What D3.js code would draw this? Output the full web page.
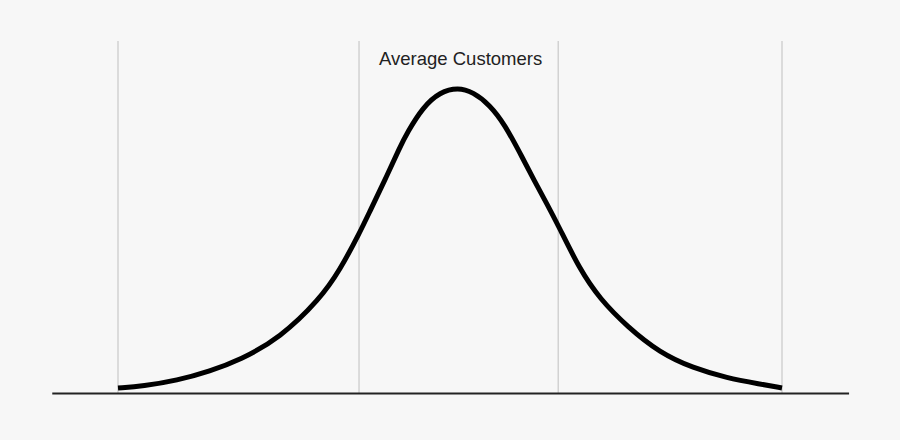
<!DOCTYPE html>
<html>
<head>
<meta charset="utf-8">
<script src="https://cdn.jsdelivr.net/npm/d3@7"></script>
<style>
  html, body { margin: 0; padding: 0; background: #f7f7f7; }
  svg { display: block; }
</style>
</head>
<body>
<svg id="chart" width="900" height="440"></svg>
<script>
// Curve samples (x: 0..100 span units, y: relative height, peak = 100)
const curveX = [0, 3.77, 8.89, 13.86, 18.37, 24.40, 30.42, 33.43, 36.45, 37.95, 40.21, 42.47, 43.52,
                45.93, 48.49, 51.20, 53.46, 56.02, 58.28, 60.54, 62.80, 64.61, 66.27,
                69.58, 72.59, 76.66, 81.63, 86.60, 91.72, 96.69, 100];
const curveY = [1.80, 2.45, 4.25, 7.35, 10.95, 18.14, 30.88, 40.36, 52.78, 59.64, 69.77, 80.56, 85.13,
                93.63, 98.53, 100, 98.53, 94.28, 87.75, 78.59, 69.12, 61.93, 55.07,
                40.36, 30.88, 21.90, 13.24, 8.33, 5.07, 3.10, 1.80];
// Vertical guide lines
const guideX = [0, 36.3, 66.3, 100];
// Baseline extent
const baseExtent = [-9.9, 110.1];
const labelText = "Average Customers";

const svg = d3.select("#chart");
const W = 900, H = 440;

const x = d3.scaleLinear().domain([0, 100]).range([118, 782]);
const y = d3.scaleLinear().domain([0, 115.2]).range([393.5, 41]);

svg.append("rect").attr("width", W).attr("height", H).attr("fill", "#f7f7f7");

svg.append("g").selectAll("line").data(guideX).join("line")
  .attr("x1", d => x(d)).attr("x2", d => x(d))
  .attr("y1", y(0)).attr("y2", y(115.2))
  .attr("stroke", "#d2d2d2").attr("stroke-width", 1.5);

svg.append("line")
  .attr("x1", x(baseExtent[0])).attr("x2", x(baseExtent[1]))
  .attr("y1", y(0)).attr("y2", y(0))
  .attr("stroke", "#222").attr("stroke-width", 2);

const pts = curveX.map((d, i) => [d, curveY[i]]);
const line = d3.line().x(d => x(d[0])).y(d => y(d[1])).curve(d3.curveBasis);
svg.append("path").datum(pts)
  .attr("d", line)
  .attr("fill", "none")
  .attr("stroke", "#000")
  .attr("stroke-width", 5);

svg.append("text")
  .attr("x", (x(guideX[1]) + x(guideX[2])) / 2 + 2)
  .attr("y", y(107.4))
  .attr("text-anchor", "middle")
  .attr("font-family", "Liberation Sans, Arial, sans-serif")
  .attr("font-size", 18.5)
  .attr("fill", "#222")
  .text(labelText);
</script>
</body>
</html>
